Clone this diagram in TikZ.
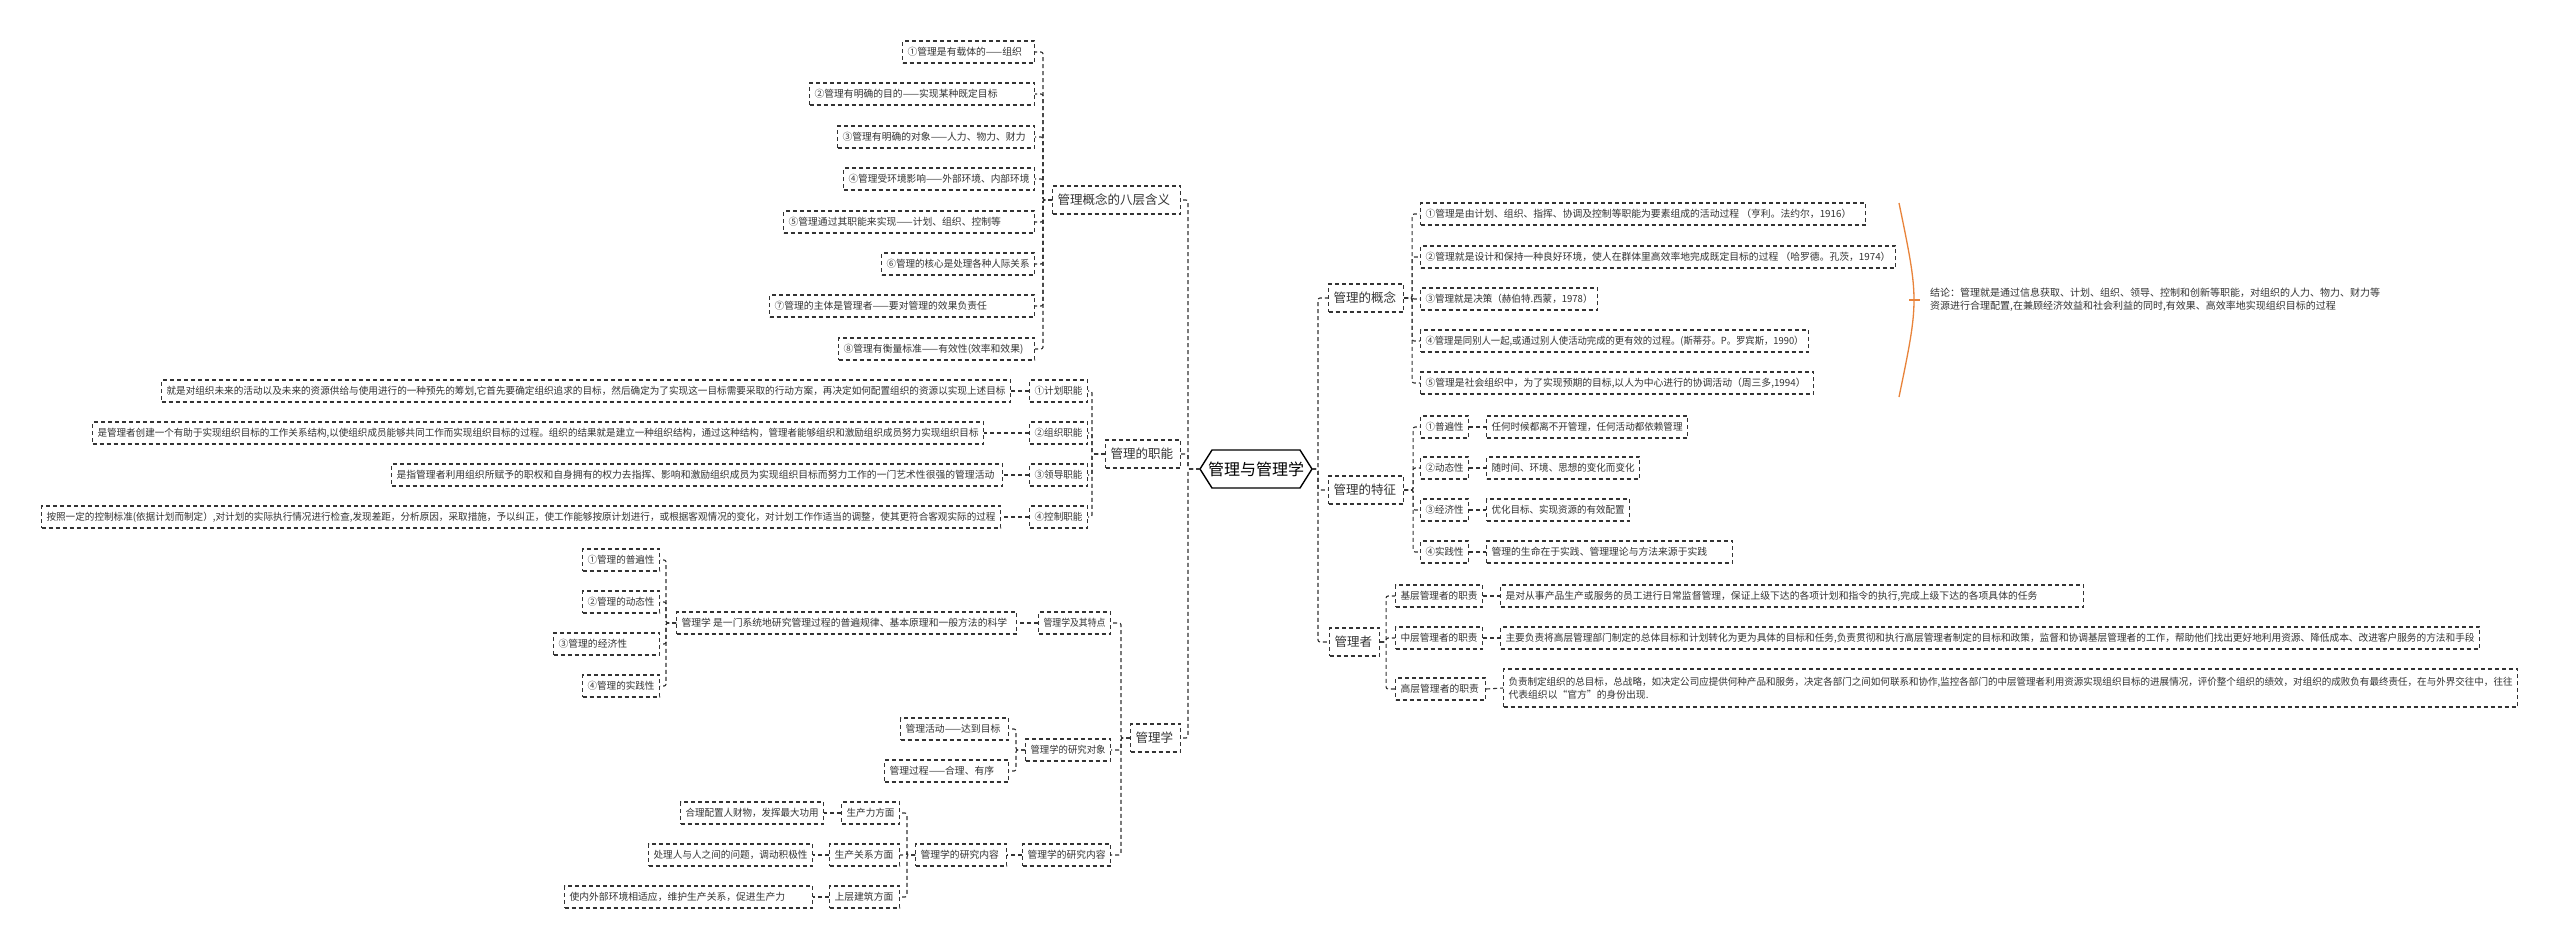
\documentclass[tikz,border=0pt]{standalone}
\usepackage{fontspec}
\setmainfont{Noto Sans CJK SC}
\usepackage{graphicx}
\definecolor{ink}{HTML}{333333}
\definecolor{bracecol}{HTML}{E8833A}
\newsavebox\fbx
\newcommand\fitbox[2]{\sbox\fbx{#2}\ifdim\wd\fbx>#1\relax\resizebox{#1}{\height}{\usebox\fbx}\else\makebox[#1][l]{\usebox\fbx}\fi}
% name, x-left, x-right, y, style, text
\newcommand\mnode[6]{\node[#5, anchor=west, minimum width={#3-#2}] (#1) at (#2,#4) {\fitbox{\dimexpr #3pt-#2pt-10pt\relax}{#6}};}
\tikzset{
  box/.style={draw=ink, line width=1.1pt, dash pattern=on 4pt off 3pt, minimum height=22pt,
    inner xsep=4pt, inner ysep=2pt, text=ink, font=\fontsize{9.8}{12}\selectfont},
  lone/.style={box, minimum height=28pt, font=\fontsize{12.5}{15}\selectfont},
  conn/.style={draw=ink, line width=1.1pt, dash pattern=on 4pt off 3pt, rounded corners=2pt},
  hexline/.style={draw=black, line width=1.4pt},
}
\begin{document}
\begin{tikzpicture}[x=1pt,y=-1pt]
\fill[white] (0,0) rectangle (2560,951);
\useasboundingbox (0,0) rectangle (2560,951);

% root
\node[font=\fontsize{16}{18}\selectfont, text=black, inner sep=0] (root) at (1256,469) {管理与管理学};
\draw[hexline] (root.center) ++(-56,0) -- ++(12,-19) -- ++(88,0) -- ++(12,19) -- ++(-12,19) -- ++(-88,0) -- cycle;
\coordinate (rootL) at ([xshift=-56pt]root.center);
\coordinate (rootR) at ([xshift=56pt]root.center);

% ---------- left: eight meanings
\mnode{m0}{1052}{1180}{200}{lone}{管理概念的八层含义}
\mnode{m1}{902}{1034}{52}{box}{①管理是有载体的——组织}
\mnode{m2}{809}{1034}{94}{box}{②管理有明确的目的——实现某种既定目标}
\mnode{m3}{837}{1034}{137}{box}{③管理有明确的对象——人力、物力、财力}
\mnode{m4}{843}{1034}{179}{box}{④管理受环境影响——外部环境、内部环境}
\mnode{m5}{783}{1034}{222}{box}{⑤管理通过其职能来实现——计划、组织、控制等}
\mnode{m6}{881}{1034}{264}{box}{⑥管理的核心是处理各种人际关系}
\mnode{m7}{769}{1034}{306}{box}{⑦管理的主体是管理者——要对管理的效果负责任}
\mnode{m8}{838}{1034}{349}{box}{⑧管理有衡量标准——有效性(效率和效果)}

% ---------- left: functions
\mnode{f0}{1105}{1180}{454}{lone}{管理的职能}
\mnode{f1}{1029}{1087}{391}{box}{①计划职能}
\mnode{f2}{1029}{1087}{433}{box}{②组织职能}
\mnode{f3}{1029}{1087}{475}{box}{③领导职能}
\mnode{f4}{1029}{1087}{517}{box}{④控制职能}
\mnode{f1t}{161}{1010}{391}{box}{就是对组织未来的活动以及未来的资源供给与使用进行的一种预先的筹划,它首先要确定组织追求的目标，然后确定为了实现这一目标需要采取的行动方案，再决定如何配置组织的资源以实现上述目标}
\mnode{f2t}{92}{983}{433}{box}{是管理者创建一个有助于实现组织目标的工作关系结构,以使组织成员能够共同工作而实现组织目标的过程。组织的结果就是建立一种组织结构，通过这种结构，管理者能够组织和激励组织成员努力实现组织目标}
\mnode{f3t}{391}{1002}{475}{box}{是指管理者利用组织所赋予的职权和自身拥有的权力去指挥、影响和激励组织成员为实现组织目标而努力工作的一门艺术性很强的管理活动}
\mnode{f4t}{41}{1000}{517}{box}{按照一定的控制标准(依据计划而制定）,对计划的实际执行情况进行检查,发现差距，分析原因，采取措施，予以纠正，使工作能够按原计划进行，或根据客观情况的变化，对计划工作作适当的调整，使其更符合客观实际的过程}

% ---------- left: 管理学
\mnode{s0}{1130}{1180}{738}{lone}{管理学}
\mnode{sA}{1038}{1110}{623}{box}{管理学及其特点}
\mnode{sAd}{676}{1016}{623}{box}{管理学 是一门系统地研究管理过程的普遍规律、基本原理和一般方法的科学}
\mnode{p1}{582}{659}{560}{box}{①管理的普遍性}
\mnode{p2}{582}{659}{602}{box}{②管理的动态性}
\mnode{p3}{553}{659}{644}{box}{③管理的经济性}
\mnode{p4}{582}{659}{686}{box}{④管理的实践性}
\mnode{sB}{1025}{1110}{750}{box}{管理学的研究对象}
\mnode{b1}{900}{1008}{729}{box}{管理活动——达到目标}
\mnode{b2}{884}{1008}{771}{box}{管理过程——合理、有序}
\mnode{sC}{1022}{1110}{855}{box}{管理学的研究内容}
\mnode{sCi}{915}{1006}{855}{box}{管理学的研究内容}
\mnode{k1}{841}{899}{813}{box}{生产力方面}
\mnode{k2}{829}{899}{855}{box}{生产关系方面}
\mnode{k3}{829}{899}{897}{box}{上层建筑方面}
\mnode{kt1}{680}{823}{813}{box}{合理配置人财物，发挥最大功用}
\mnode{kt2}{648}{812}{855}{box}{处理人与人之间的问题，调动积极性}
\mnode{kt3}{564}{812}{897}{box}{使内外部环境相适应，维护生产关系，促进生产力}

% ---------- right: 管理的概念
\mnode{c0}{1328}{1403}{298}{lone}{管理的概念}
\mnode{c1}{1420}{1865}{214}{box}{①管理是由计划、组织、指挥、协调及控制等职能为要素组成的活动过程 （亨利。法约尔，1916）}
\mnode{c2}{1420}{1895}{257}{box}{②管理就是设计和保持一种良好环境，使人在群体里高效率地完成既定目标的过程 （哈罗德。孔茨，1974）}
\mnode{c3}{1420}{1597}{299}{box}{③管理就是决策（赫伯特.西蒙，1978）}
\mnode{c4}{1420}{1808}{341}{box}{④管理是同别人一起,或通过别人使活动完成的更有效的过程。(斯蒂芬。P。罗宾斯，1990）}
\mnode{c5}{1420}{1813}{383}{box}{⑤管理是社会组织中，为了实现预期的目标,以人为中心进行的协调活动（周三多,1994）}
\draw[bracecol, line width=1.3pt] (1899,203) .. controls (1919,300) .. (1899,397);
\coordinate (bracetip) at (1909,300);
\node[anchor=west, align=left, inner sep=0, text=ink, font=\fontsize{10}{13}\selectfont] (concl) at (1930,300)
  {结论：管理就是通过信息获取、计划、组织、领导、控制和创新等职能，对组织的人力、物力、财力等\\资源进行合理配置,在兼顾经济效益和社会利益的同时,有效果、高效率地实现组织目标的过程};
\draw[bracecol, line width=1.3pt] (bracetip) -- ++(11,0);

% ---------- right: 管理的特征
\mnode{t0}{1328}{1403}{490}{lone}{管理的特征}
\mnode{t1}{1420}{1468}{427}{box}{①普遍性}
\mnode{t2}{1420}{1468}{468}{box}{②动态性}
\mnode{t3}{1420}{1468}{510}{box}{③经济性}
\mnode{t4}{1420}{1468}{552}{box}{④实践性}
\mnode{td1}{1486}{1687}{427}{box}{任何时候都离不开管理，任何活动都依赖管理}
\mnode{td2}{1486}{1639}{468}{box}{随时间、环境、思想的变化而变化}
\mnode{td3}{1486}{1629}{510}{box}{优化目标、实现资源的有效配置}
\mnode{td4}{1486}{1732}{552}{box}{管理的生命在于实践、管理理论与方法来源于实践}

% ---------- right: 管理者
\mnode{g0}{1329}{1379}{642}{lone}{管理者}
\mnode{g1}{1395}{1482}{596}{box}{基层管理者的职责}
\mnode{g2}{1395}{1482}{638}{box}{中层管理者的职责}
\mnode{g3}{1395}{1485}{689}{box}{高层管理者的职责}
\mnode{gt1}{1500}{2083}{596}{box}{是对从事产品生产或服务的员工进行日常监督管理，保证上级下达的各项计划和指令的执行,完成上级下达的各项具体的任务}
\mnode{gt2}{1500}{2479}{638}{box}{主要负责将高层管理部门制定的总体目标和计划转化为更为具体的目标和任务,负责贯彻和执行高层管理者制定的目标和政策，监督和协调基层管理者的工作，帮助他们找出更好地利用资源、降低成本、改进客户服务的方法和手段}
\node[box, anchor=west, minimum width=1014, minimum height=38pt, align=left, font=\fontsize{9.8}{13}\selectfont] (gt3) at (1503,688)
  {\fitbox{1004pt}{负责制定组织的总目标，总战略，如决定公司应提供何种产品和服务，决定各部门之间如何联系和协作,监控各部门的中层管理者利用资源实现组织目标的进展情况，评价整个组织的绩效，对组织的成败负有最终责任，在与外界交往中，往往}\\\makebox[1004pt][l]{代表组织以“官方”的身份出现.}};

% ---------- connectors
\foreach \n in {m0,f0,s0} \draw[conn] (rootL) -- ++(-12,0) |- (\n.east);
\foreach \n in {c0,t0,g0} \draw[conn] (rootR) -- ++(6,0) |- (\n.west);
\foreach \i in {1,...,8} \draw[conn] (m0.west) -- ++(-9,0) |- (m\i.east);
\foreach \i in {1,...,4} {
  \draw[conn] (f0.west) -- ++(-13,0) |- (f\i.east);
  \draw[conn] (f\i.west) -- (f\i t.east);
}
\foreach \n in {sA,sB,sC} \draw[conn] (s0.west) -- ++(-9,0) |- (\n.east);
\draw[conn] (sA.west) -- (sAd.east);
\foreach \i in {1,...,4} \draw[conn] (sAd.west) -- ++(-10,0) |- (p\i.east);
\foreach \i in {1,2} \draw[conn] (sB.west) -- ++(-9,0) |- (b\i.east);
\draw[conn] (sC.west) -- (sCi.east);
\foreach \i in {1,2,3} {
  \draw[conn] (sCi.west) -- ++(-8,0) |- (k\i.east);
  \draw[conn] (k\i.west) -- (kt\i.east);
}
\foreach \i in {1,...,5} \draw[conn] (c0.east) -- ++(8,0) |- (c\i.west);
\foreach \i in {1,...,4} {
  \draw[conn] (t0.east) -- ++(9,0) |- (t\i.west);
  \draw[conn] (t\i.east) -- (td\i.west);
}
\foreach \i in {1,2,3} {
  \draw[conn] (g0.east) -- ++(6,0) |- (g\i.west);
  \draw[conn] (g\i.east) -- (gt\i.west);
}
\end{tikzpicture}
\end{document}
